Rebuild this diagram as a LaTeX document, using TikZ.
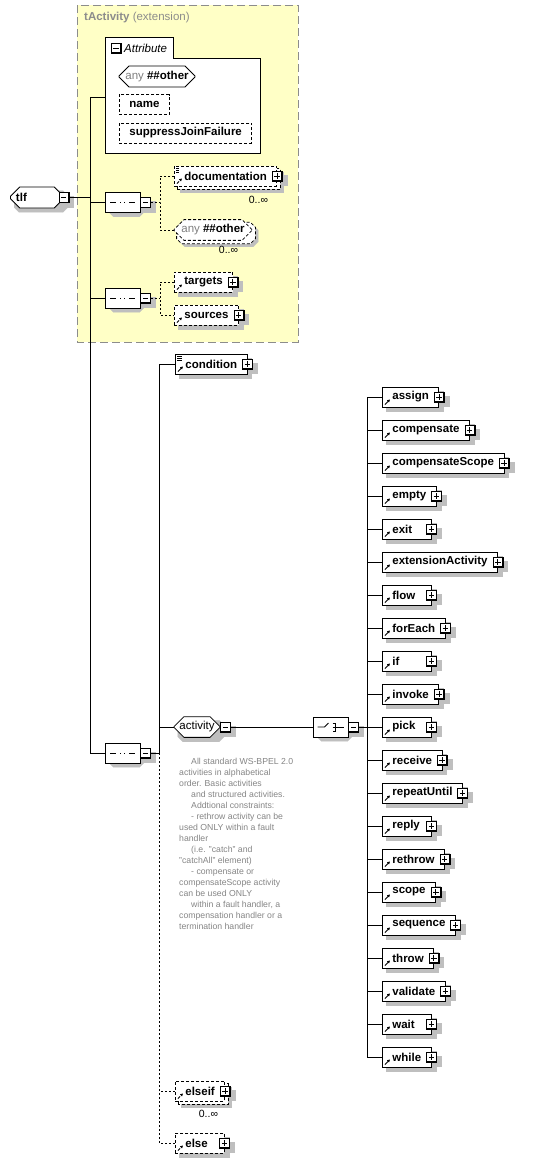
\documentclass[tikz,border=0pt]{standalone}
\usepackage{fontspec}
\setmainfont{Liberation Sans}
\usetikzlibrary{arrows.meta,shapes.misc}
\definecolor{groupfill}{HTML}{FFFFC6}
\definecolor{groupline}{HTML}{8C8C8C}
\definecolor{notegray}{HTML}{858585}
\pgfdeclarelayer{grouplayer}
\pgfdeclarelayer{shadowlayer}
\pgfsetlayers{grouplayer,shadowlayer,main}

\newcommand{\elfont}{\fontsize{11.5}{13}\selectfont}
\newcommand{\notefont}{\fontsize{8.7}{11}\selectfont}
\newcommand{\occfont}{\fontsize{10.5}{12}\selectfont}
\newcommand{\minbox}[1]{\setbox0\hbox{#1}\ifdim\wd0<29pt \hbox to 29pt{#1\hfil}\else\box0\fi\hspace{2pt}}
% shadow / copy outlines, drawn from a node's anchors
\newcommand{\rectfill}[4]{\path[#4] ([shift={(#2,#3)}]#1.south west) rectangle ([shift={(#2,#3)}]#1.north east);}
\newcommand{\octfill}[4]{\path[#4]
    ([shift={({#2+5pt},{#3})}]#1.west |- #1.north) -- ([shift={({#2-5pt},{#3})}]#1.east |- #1.north)
    -- ([shift={({#2},{#3-5pt})}]#1.east |- #1.north) -- ([shift={({#2},{#3+5pt})}]#1.east |- #1.south)
    -- ([shift={({#2-5pt},{#3})}]#1.east |- #1.south) -- ([shift={({#2+5pt},{#3})}]#1.west |- #1.south)
    -- ([shift={({#2},{#3+5pt})}]#1.west |- #1.south) -- ([shift={({#2},{#3-5pt})}]#1.west |- #1.north) -- cycle;}
\newcommand{\btnedge}{\draw[line width=2pt] (path picture bounding box.north east)
    -- (path picture bounding box.south east) -- (path picture bounding box.south west);}

\begin{document}
\begin{tikzpicture}[x=1pt, y=-1pt,
    link/.style={line width=0.8pt},
    dashlink/.style={line width=0.8pt, dash pattern=on 2pt off 2pt},
    opt/.style={dash pattern=on 3pt off 2pt},
    shadowfill/.style={fill=black!25, draw=black!25, line width=0.1pt},
    copyfill/.style={fill=white, draw, line width=0.8pt, opt},
    refmark/.style={path picture={
        \draw[line width=0.9pt, -{Triangle[length=2.6pt, width=2.8pt]}]
            ([shift={(2.5pt,2.5pt)}]path picture bounding box.south west) -- ++(5pt,5pt);}},
    docref/.style={path picture={
        \draw[line width=0.9pt, -{Triangle[length=2.6pt, width=2.8pt]}]
            ([shift={(2.5pt,2.5pt)}]path picture bounding box.south west) -- ++(5pt,5pt);
        \foreach \k in {0,1,2}
            \draw[line width=0.6pt] ([shift={(2pt,{-2.5pt-1.8pt*\k})}]path picture bounding box.north west) -- ++(5pt,0pt);}},
    elem/.style={draw, fill=white, line width=0.8pt, minimum height=20pt, inner xsep=10pt,
        inner ysep=0pt, anchor=west, font=\elfont\bfseries, refmark},
    comp/.style={chamfered rectangle, chamfered rectangle xsep=5pt, chamfered rectangle ysep=5pt,
        draw, fill=white, line width=0.8pt, minimum width=35pt, minimum height=20pt, inner sep=0pt},
    btn/.style={draw, fill=white, line width=0.8pt, minimum size=10pt, inner sep=0pt},
    minusbtn/.style={btn, path picture={\btnedge
        \draw[line width=0.8pt] ([xshift=2pt]path picture bounding box.west)
            -- ([xshift=-2.5pt]path picture bounding box.east);}},
    plusbtn/.style={btn, path picture={\btnedge
        \draw[line width=0.8pt] ([xshift=2pt]path picture bounding box.west)
            -- ([xshift=-2.5pt]path picture bounding box.east)
            ([shift={(-0.3pt,-2pt)}]path picture bounding box.north)
            -- ([shift={(-0.3pt,2.5pt)}]path picture bounding box.south);}},
    seqicon/.style={path picture={
        \draw[line width=0.8pt] ([xshift=5pt]path picture bounding box.west)
            -- ([xshift=-5pt]path picture bounding box.east);
        \foreach \d in {-4.5,0,4.5}
            \fill ([xshift=\d pt]path picture bounding box.center) +(-1.8pt,-1.8pt) rectangle +(1.8pt,1.8pt);}},
    choiceicon/.style={path picture={
        \draw[line width=0.8pt] ([xshift=-13pt]path picture bounding box.center)
            -- ([xshift=-6pt]path picture bounding box.center)
            -- ([shift={(-2pt,4pt)}]path picture bounding box.center);
        \foreach \d in {-4,0,4}
            \fill ([shift={(0.5pt,\d pt)}]path picture bounding box.center) +(-1.3pt,-1.3pt) rectangle +(1.3pt,1.3pt);
        \draw[line width=0.8pt] ([shift={(2pt,4pt)}]path picture bounding box.center)
            -- ([shift={(5pt,4pt)}]path picture bounding box.center)
            -- ([shift={(5pt,-4pt)}]path picture bounding box.center)
            -- ([shift={(2pt,-4pt)}]path picture bounding box.center)
            ([shift={(2pt,0pt)}]path picture bounding box.center)
            -- ([xshift=13pt]path picture bounding box.center);}},
    occ/.style={font=\occfont, inner sep=0pt, anchor=north east},
]
\useasboundingbox (0,0) rectangle (534,1163);

% tActivity group
\begin{pgfonlayer}{grouplayer}
\draw[groupline, fill=groupfill, line width=0.9pt, dash pattern=on 8pt off 4pt] (77,5) rectangle (298,342);
\end{pgfonlayer}
\node[font=\elfont, text=groupline, anchor=west, inner sep=0pt] (grouptitle) at (84,18) {\textbf{tActivity} (extension)};

% Attribute box
\node[draw, fill=white, line width=0.8pt, minimum width=155pt, minimum height=95pt,
    anchor=north west] (attrbox) at (105,58) {};
\node[draw, fill=white, line width=0.8pt, minimum width=68pt, minimum height=20pt,
    anchor=south west] (attrtab) at (attrbox.north west) {};
\draw[white, line width=1.2pt] ([xshift=0.8pt]attrtab.south west) -- ([xshift=-0.8pt]attrtab.south east);
\node[minusbtn] (attr-btn) at (116,48) {};
\node[font=\elfont\itshape, anchor=west, inner sep=0pt] (attr-title) at (124,48) {Attribute};
\node[comp, minimum width=76pt, minimum height=21pt, font=\elfont] (attr-any) at (157,76.5)
    {\textcolor{gray}{any} \textbf{\#\#other}};
\node[elem, opt, path picture={}] (attr-name) at (119,104.5) {name\hspace{2pt}};
\node[elem, opt, path picture={}] (attr-suppress) at (119,133) {suppressJoinFailure\hspace{2pt}};

% root and compositors
\node[comp, minimum width=53pt, minimum height=21pt, font=\elfont\bfseries] (tlf) at (37,197.5)
    {\hbox to 42pt{tlf\hfil}};
\node[minusbtn] (tlf-btn) at (tlf.east) {};
\node[comp, seqicon] (seqA) at (122.5,202.5) {};
\node[minusbtn, anchor=west] (seqA-btn) at (seqA.east) {};
\node[comp, seqicon] (seqB) at (122.5,298) {};
\node[minusbtn, anchor=west] (seqB-btn) at (seqB.east) {};
\node[comp, seqicon] (seqC) at (122.5,753) {};
\node[minusbtn, anchor=west] (seqC-btn) at (seqC.east) {};

% first sequence
\node[elem, opt, docref] (docu) at (174,176) {documentation\hspace{2pt}};
\node[plusbtn] (docu-btn) at (docu.east) {};
\node[occ] (docu-occ) at ([xshift=-9pt, yshift=-10pt]docu.south east) {0..∞};
\node[comp, opt, minimum width=78pt, font=\elfont] (anyel) at (213,230)
    {\textcolor{gray}{any} \textbf{\#\#other}};
\node[occ] (anyel-occ) at ([xshift=-9pt, yshift=-10pt]anyel.south east) {0..∞};

% second sequence
\node[elem, opt] (targets) at (174,282) {targets\hspace{2pt}};
\node[plusbtn] (targets-btn) at (targets.east) {};
\node[elem, opt] (sources) at (174,315) {sources\hspace{2pt}};
\node[plusbtn] (sources-btn) at (sources.east) {};

% third sequence
\node[elem, docref] (cond) at (175,364) {condition\hspace{2pt}};
\node[plusbtn] (cond-btn) at (cond.east) {};
\node[comp, minimum width=46pt, font=\elfont] (activity) at (197,727) {activity\hspace{6pt}};
\node[minusbtn, anchor=west] (activity-btn) at (activity.east) {};
\node[comp, choiceicon] (choice) at (330.5,727) {};
\node[minusbtn, anchor=west] (choice-btn) at (choice.east) {};
\node[elem, opt] (elseif) at (175,1091) {elseif\hspace{2pt}};
\node[plusbtn] (elseif-btn) at (elseif.east) {};
\node[occ] (elseif-occ) at ([xshift=-7pt, yshift=-9pt]elseif.south east) {0..∞};
\node[elem, opt] (else) at (175,1143) {\minbox{else}};
\node[plusbtn] (else-btn) at (else.east) {};

% annotation
\node[font=\notefont, text=notegray, align=left, anchor=north west, inner sep=0pt] (note) at (179,758)
    {\hspace*{12pt}All standard WS-BPEL 2.0\\
     activities in alphabetical\\
     order. Basic activities\\
     \hspace*{12pt}and structured activities.\\
     \hspace*{12pt}Addtional constraints:\\
     \hspace*{12pt}- rethrow activity can be\\
     used ONLY within a fault\\
     handler\\
     \hspace*{12pt}(i.e. "catch" and\\
     "catchAll" element)\\
     \hspace*{12pt}- compensate or\\
     compensateScope activity\\
     can be used ONLY\\
     \hspace*{12pt}within a fault handler, a\\
     compensation handler or a\\
     termination handler};

% activity choice
\coordinate (rx) at (367,727);
\foreach \act [count=\i from 0] in {assign,compensate,compensateScope,empty,exit,extensionActivity,flow,forEach,if,invoke,pick,receive,repeatUntil,reply,rethrow,scope,sequence,throw,validate,wait,while} {
    \node[elem] (\act) at (382,{397+33*\i}) {\minbox{\act}};
    \node[plusbtn] (\act-btn) at (\act.east) {};
    \draw[link] (\act.west -| rx) -- (\act.west);
    \begin{pgfonlayer}{shadowlayer}
        \rectfill{\act}{4pt}{-4pt}{shadowfill}
        \rectfill{\act-btn}{4pt}{-4pt}{shadowfill}
    \end{pgfonlayer}
}
\draw[link] (assign.west -| rx) -- (while.west -| rx);
\draw[link] (choice-btn.east) -- (choice-btn.east -| rx);

% trunk
\coordinate (trk) at (90,97);
\draw[link] (attrbox.west |- trk) -- (trk) -- (trk |- seqC.west) -- (seqC.west);
\draw[link] (tlf-btn.east) -- (tlf-btn.east -| trk);
\draw[link] (seqA.west -| trk) -- (seqA.west);
\draw[link] (seqB.west -| trk) -- (seqB.west);

% branches
\coordinate (brA) at (160,202.5);
\coordinate (brB) at (160,298);
\coordinate (brC) at (159,753);
\draw[dashlink] (seqA-btn.east) -- (brA);
\draw[dashlink] (docu.west) -| (brA) |- (anyel.west);
\draw[dashlink] (seqB-btn.east) -- (brB);
\draw[dashlink] (targets.west) -| (brB) |- (sources.west);
\draw[link] (seqC-btn.east) -- (brC);
\draw[link] (cond.west) -| (brC);
\draw[link] (activity.west) -- (activity.west -| brC);
\draw[dashlink] (brC) |- (elseif.west);
\draw[dashlink] (brC) |- (else.west);
\draw[link] (activity-btn.east) -- (choice.west);

% shadows and repeat outlines
\begin{pgfonlayer}{shadowlayer}
\foreach \n in {attr-name,attr-suppress,targets,sources,cond,else,tlf-btn,seqA-btn,seqB-btn,seqC-btn,
        activity-btn,choice-btn,docu-btn,targets-btn,sources-btn,cond-btn,elseif-btn,else-btn}
    {\rectfill{\n}{4pt}{-4pt}{shadowfill}}
\foreach \n in {tlf,seqA,seqB,seqC,activity,choice,attr-any}
    {\octfill{\n}{4pt}{-4pt}{shadowfill}}
\rectfill{docu}{6pt}{-6pt}{shadowfill}
\rectfill{docu}{3pt}{-3pt}{copyfill}
\rectfill{elseif}{6pt}{-6pt}{shadowfill}
\rectfill{elseif}{3pt}{-3pt}{copyfill}
\octfill{anyel}{6pt}{-6pt}{shadowfill}
\octfill{anyel}{3pt}{-3pt}{copyfill}
\end{pgfonlayer}

\end{tikzpicture}
\end{document}
